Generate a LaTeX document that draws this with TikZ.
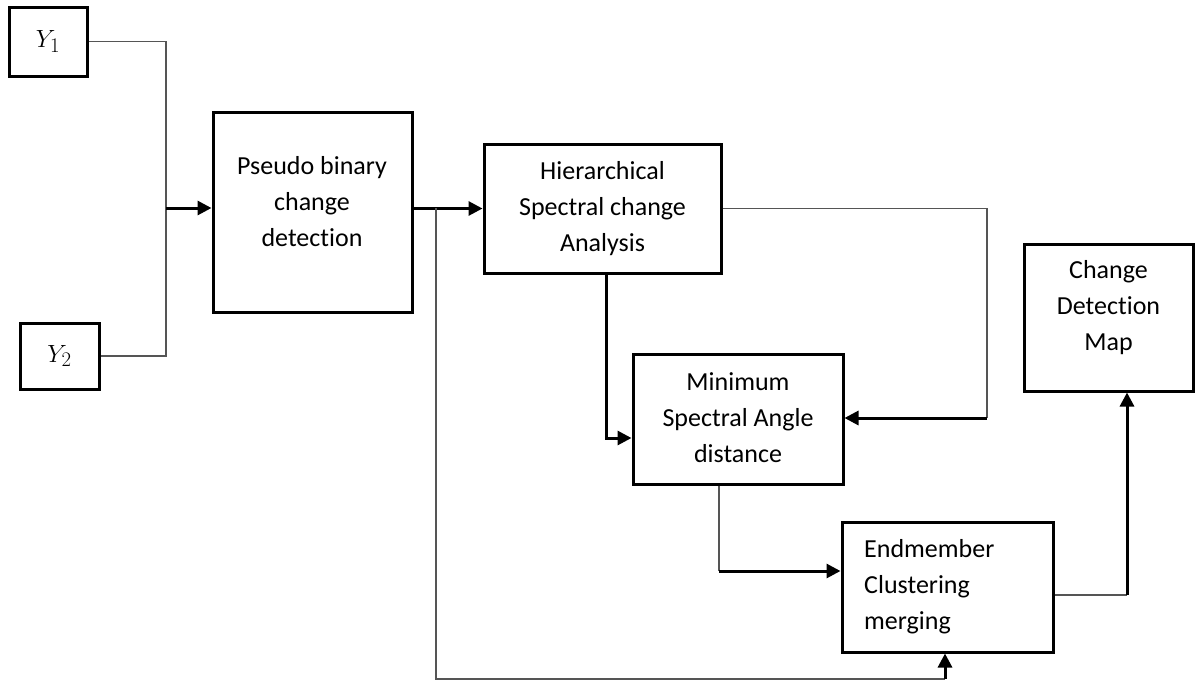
\documentclass[tikz,border=0pt]{standalone}
\usepackage{fontspec}
\setmainfont{Carlito}[Ligatures=NoCommon]
\usetikzlibrary{arrows.meta}
\definecolor{thinc}{RGB}{85,85,85}
\tikzset{
  box/.style={draw=black, line width=3pt, rectangle, inner sep=0pt},
  txt/.style={font=\fontsize{26}{36}\selectfont, align=center, inner sep=0pt},
  ytxt/.style={font=\fontsize{30}{36}\selectfont, inner sep=0pt},
  thinline/.style={draw=thinc, line width=1.5pt},
  thickarr/.style={draw=black, line width=3pt, -{Triangle[length=14pt,width=14pt]}}
}
\begin{document}
\begin{tikzpicture}[x=1pt,y=-1pt]
\useasboundingbox (0,0) rectangle (1202,683);
% boxes
\node[box, minimum width=78pt, minimum height=69pt] (Y1) at (48,41.5) {};
\node[box, minimum width=79pt, minimum height=66pt] (Y2) at (59.5,356) {};
\node[box, minimum width=199pt, minimum height=200pt] (P) at (312.5,212) {};
\node[box, minimum width=237pt, minimum height=129pt] (H) at (602.5,208.5) {};
\node[box, minimum width=210pt, minimum height=130pt] (M) at (738,419) {};
\node[box, minimum width=211pt, minimum height=130pt] (E) at (947.5,587) {};
\node[box, minimum width=169pt, minimum height=147pt] (C) at (1108.5,317.5) {};
% texts
\node[ytxt] (Y1t) at (Y1.center) {$Y_1$};
\node[ytxt] (Y2t) at (Y2.center) {$Y_2$};
\node[txt] (Pt) at (312,202) {Pseudo binary\\change\\detection};
\node[txt] (Ht) at (602.5,209) {Hierarchical\\Spectral change\\Analysis};
\node[txt] (Mt) at (738,418) {Minimum\\Spectral Angle\\distance};
\node[txt, align=left, anchor=west] (Et) at (864,587) {Endmember\\Clustering\\merging};
\node[txt] (Ct) at (1108.5,308) {Change\\Detection\\Map};
% junction coordinates
\coordinate (jin) at (166,208);
\coordinate (br) at (436,208);
\coordinate (bot) at (945,679);
\coordinate (hm) at (606,438);
\coordinate (hr) at (987,418);
\coordinate (me) at (719,571);
\coordinate (ec) at (1127,595);
% connectors
\draw[thinline] (Y1.east) -- (Y1.east -| jin) -- (Y2.east -| jin) -- (Y2.east);
\draw[thickarr] (jin) -- (jin -| P.west);
\draw[thickarr] (P.east |- H.west) -- (H.west);
\draw[thinline] (br) -- (br |- bot) -- (bot);
\draw[thickarr] (bot) -- (bot |- E.south);
\draw[thickarr] (H.south -| hm) |- (hm -| M.west);
\draw[thinline] (H.east) -| (hr);
\draw[thickarr] (hr) -- (hr -| M.east);
\draw[thinline] (M.south -| me) -- (me);
\draw[thickarr] (me) -- (me -| E.west);
\draw[thinline] (E.east |- ec) -- (ec);
\draw[thickarr] (ec) -- (ec |- C.south);
\end{tikzpicture}
\end{document}
